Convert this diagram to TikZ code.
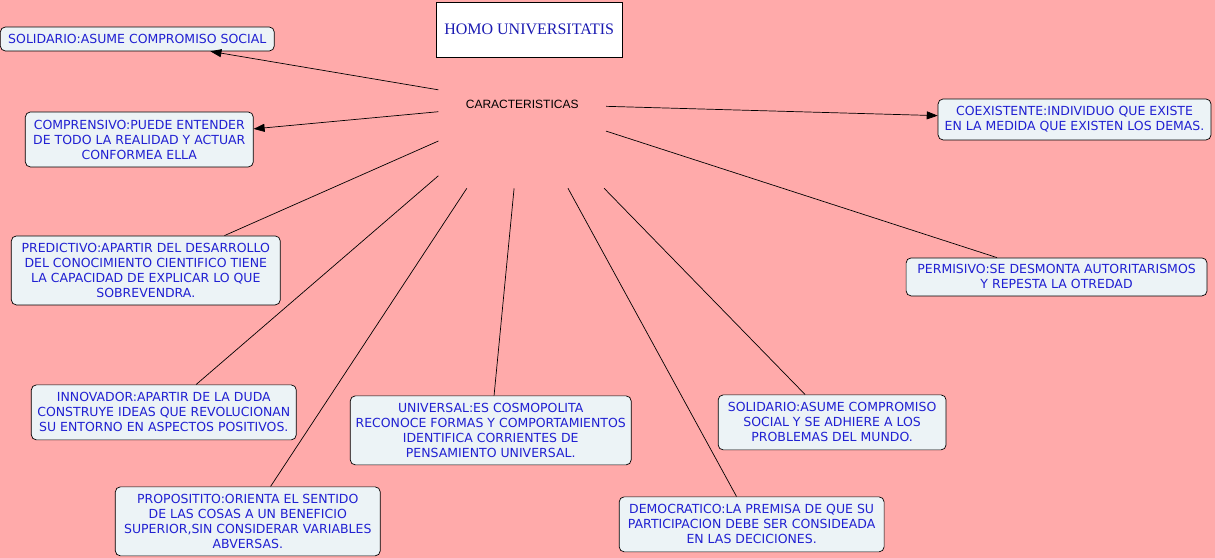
\documentclass[tikz,border=0pt]{standalone}
\usepackage{fontspec}
\usetikzlibrary{arrows.meta}
\setmainfont{DejaVu Sans}
\newfontfamily\titlefont{Liberation Serif}
\newfontfamily\carfont{Liberation Sans}
\definecolor{fondo}{RGB}{255,170,170}
\definecolor{caja}{RGB}{236,243,246}
\definecolor{letra}{RGB}{32,32,210}
\begin{document}
\begin{tikzpicture}[x=1pt, y=-1pt, line width=0.7pt, idea/.style={draw, rounded corners=5pt, fill=caja, text=letra, align=center, inner sep=2pt, font=\fontsize{12.5}{15}\selectfont}, flecha/.style={-{Triangle[length=11pt, width=8pt]}}]
			\fill[fondo] (0,0) rectangle (1215,558);
			\node[draw, fill=white, text=letra!85!black, minimum width=186, minimum height=55, font=\titlefont\fontsize{16}{18}\selectfont] (titulo) at (529,29.5) {HOMO UNIVERSITATIS};
			\node[minimum width=167, minimum height=168, font=\carfont\fontsize{12}{14}\selectfont] (car) at (522,104) {CARACTERISTICAS};
			\node[idea, minimum width=274, minimum height=24] (sol1) at (137,39) {SOLIDARIO:ASUME COMPROMISO SOCIAL};
			\node[idea, minimum width=228, minimum height=55] (comp) at (139,139.5) {COMPRENSIVO:PUEDE ENTENDER\\DE TODO LA REALIDAD Y ACTUAR\\CONFORMEA ELLA};
			\node[idea, minimum width=273, minimum height=41] (coex) at (1074.5,119.5) {COEXISTENTE:INDIVIDUO QUE EXISTE\\EN LA MEDIDA QUE EXISTEN LOS DEMAS.};
			\node[idea, minimum width=269, minimum height=69] (pred) at (145.5,270.5) {PREDICTIVO:APARTIR DEL DESARROLLO\\DEL CONOCIMIENTO CIENTIFICO TIENE\\LA CAPACIDAD DE EXPLICAR LO QUE\\SOBREVENDRA.};
			\node[idea, minimum width=301, minimum height=38] (perm) at (1056.5,277) {PERMISIVO:SE DESMONTA AUTORITARISMOS\\Y REPESTA LA OTREDAD};
			\node[idea, minimum width=265, minimum height=55] (innov) at (163.5,412.5) {INNOVADOR:APARTIR DE LA DUDA\\CONSTRUYE IDEAS QUE REVOLUCIONAN\\SU ENTORNO EN ASPECTOS POSITIVOS.};
			\node[idea, minimum width=281, minimum height=69] (univ) at (490.5,430.5) {UNIVERSAL:ES COSMOPOLITA\\RECONOCE FORMAS Y COMPORTAMIENTOS\\IDENTIFICA CORRIENTES DE\\PENSAMIENTO UNIVERSAL.};
			\node[idea, minimum width=228, minimum height=55] (sol2) at (832,422.5) {SOLIDARIO:ASUME COMPROMISO\\SOCIAL Y SE ADHIERE A LOS\\PROBLEMAS DEL MUNDO.};
			\node[idea, minimum width=265, minimum height=69] (prop) at (247.5,521.5) {PROPOSITITO:ORIENTA EL SENTIDO\\DE LAS COSAS A UN BENEFICIO\\SUPERIOR,SIN CONSIDERAR VARIABLES\\ABVERSAS.};
			\node[idea, minimum width=265, minimum height=55] (demo) at (751.5,524.5) {DEMOCRATICO:LA PREMISA DE QUE SU\\PARTICIPACION DEBE SER CONSIDEADA\\EN LAS DECICIONES.};
			\draw[flecha] (car) -- (sol1);
			\draw[flecha] (car) -- (comp);
			\draw[flecha] (car) -- (coex);
			\draw (car) -- (pred);
			\draw (car) -- (perm);
			\draw (car) -- (innov);
			\draw (car) -- (univ);
			\draw (car) -- (sol2);
			\draw (car) -- (prop);
			\draw (car) -- (demo);
			\end{tikzpicture}
\end{document}
